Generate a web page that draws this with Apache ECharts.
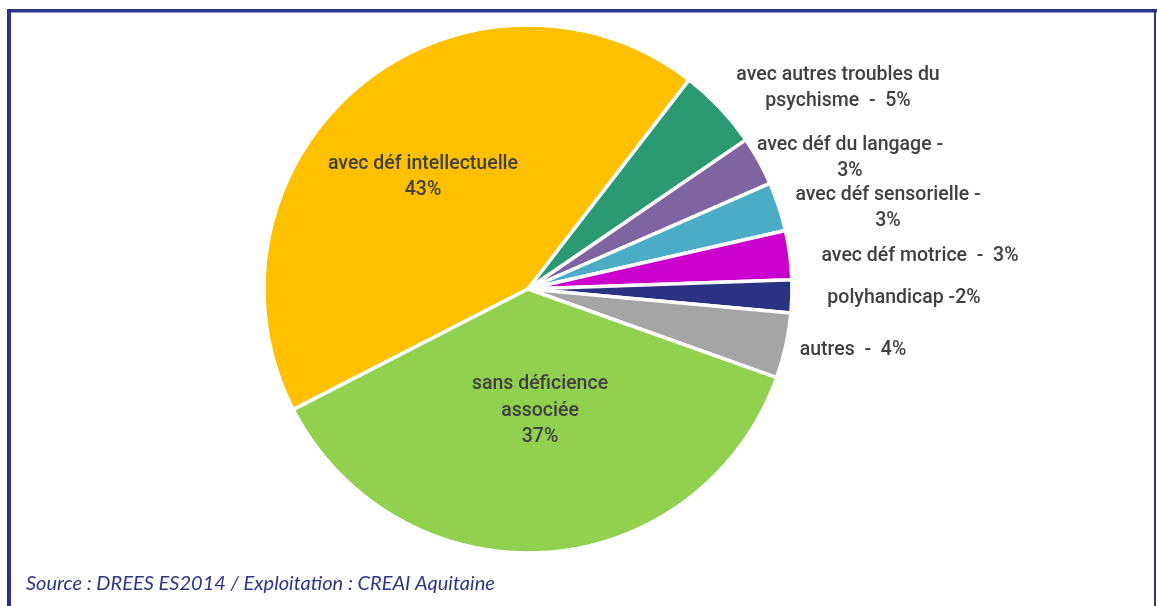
<!DOCTYPE html>
<html>
<head>
<meta charset="utf-8">
<script src="https://cdn.jsdelivr.net/npm/echarts@6/dist/echarts.min.js"></script>
<style>
  html, body { margin: 0; padding: 0; background: #ffffff; }
  #chart { width: 1157px; height: 606px; }
</style>
</head>
<body>
<div id="chart"></div>
<script>
// Répartition selon la déficience associée (en %)
const categories = [
  'avec déf intellectuelle',
  'avec autres troubles du psychisme',
  'avec déf du langage',
  'avec déf sensorielle',
  'avec déf motrice',
  'polyhandicap',
  'autres',
  'sans déficience associée'
];
const shares = [43, 5, 3, 3, 3, 2, 4, 37];
const sliceColors = ['#FFC000', '#2B9A72', '#8064A2', '#4BACC6', '#CC00CC', '#2B3282', '#A5A5A5', '#92D050'];
// Label wording, {v} is replaced by the share
const labelTexts = [
  'avec déf intellectuelle\n{v}%',
  'avec autres troubles du\npsychisme  -  {v}%',
  'avec déf du langage -\n{v}%',
  'avec déf sensorielle -\n{v}%',
  'avec déf motrice  -  {v}%',
  'polyhandicap -{v}%',
  'autres  -  {v}%',
  'sans déficience\nassociée\n{v}%'
];
const sourceNote = 'Source : DREES ES2014 / Exploitation : CREAI Aquitaine';

// Label anchors (centre of each text block, in px)
const labelAnchors = [
  [423, 177], [838, 88], [850, 158], [888, 208],
  [920, 256], [904, 298], [853, 350], [540, 411]
];

const chart = echarts.init(document.getElementById('chart'), null, { renderer: 'canvas' });
const frameColor = '#2B3388';
const labelFont = 'Roboto, "Liberation Sans", Arial, sans-serif';

chart.setOption({
  animation: false,
  graphic: [
    { type: 'rect', shape: { x: 7, y: 9, width: 1150, height: 3.5 }, style: { fill: frameColor } },
    { type: 'rect', shape: { x: 7, y: 9, width: 4, height: 600 }, style: { fill: frameColor } },
    { type: 'rect', shape: { x: 1154, y: 9, width: 2, height: 600 }, style: { fill: frameColor } },
    {
      type: 'text', left: 26, top: 574,
      style: {
        text: sourceNote,
        fill: '#2E3586',
        font: 'italic 20px Lato, "Open Sans", sans-serif'
      }
    }
  ],
  series: [{
    type: 'pie',
    center: [528, 289],
    radius: 264,
    startAngle: 207.2,
    clockwise: true,
    avoidLabelOverlap: false,
    itemStyle: { borderColor: '#ffffff', borderWidth: 3.5 },
    label: {
      show: true,
      position: 'inside',
      color: '#404040',
      fontFamily: labelFont,
      fontWeight: 500,
      fontSize: 19.5,
      lineHeight: 26.5,
      align: 'center',
      formatter: p => labelTexts[p.dataIndex].replace('{v}', p.value)
    },
    labelLine: { show: false },
    labelLayout: p => ({
      x: labelAnchors[p.dataIndex][0],
      y: labelAnchors[p.dataIndex][1],
      align: 'center',
      verticalAlign: 'middle'
    }),
    emphasis: { disabled: true },
    data: categories.map((name, i) => ({
      name: name,
      value: shares[i],
      itemStyle: { color: sliceColors[i] }
    }))
  }]
});
</script>
</body>
</html>
